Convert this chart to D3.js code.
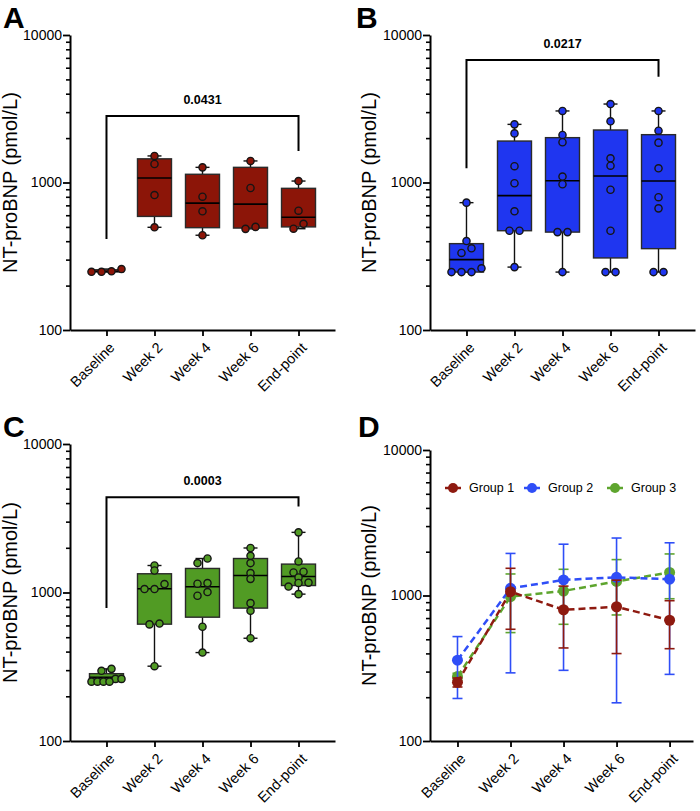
<!DOCTYPE html>
<html><head><meta charset="utf-8">
<script src="https://cdn.jsdelivr.net/npm/d3@7"></script>
<style>
body{margin:0;background:#fff}
text{font-family:"Liberation Sans",Arial,Helvetica,sans-serif}
</style>
</head><body>
<svg id="chart" width="700" height="811"></svg>
<script>
// ---------------- DATA ----------------
const categories = ["Baseline", "Week 2", "Week 4", "Week 6", "End-point"];
const yTicksMajor = [100, 1000, 10000];
const yTicksMinor = [200, 300, 400, 500, 600, 700, 800, 900, 2000, 3000, 4000, 5000, 6000, 7000, 8000, 9000];
const yTitle = "NT-proBNP (pmol/L)";
const groupNames = ["Group 1", "Group 2", "Group 3"];
const pValues = ["0.0431", "0.0217", "0.0003"];

// Panel A (Group 1) individual values per time point
const pointsA = [
  [248, 259, 248, 250],
  [1514, 1335, 822, 497],
  [1267, 801, 638, 439],
  [1400, 918, 500, 485],
  [1023, 644, 525, 486]
];
// box quartiles [Q1, median, Q3]
const boxA = [[248, 249, 256], [589, 1073, 1447], [494, 725, 1137], [491, 714, 1267], [500, 581, 913]];

// Panel B (Group 2)
const pointsB = [
  [730, 401, 358, 333, 262, 247, 247, 247],
  [2478, 2153, 1290, 988, 638, 471, 471, 267],
  [3055, 2100, 1875, 1097, 973, 461, 461, 247],
  [3404, 2600, 1459, 1300, 893, 471, 247, 247],
  [3055, 2245, 1863, 1248, 795, 668, 247, 247]
];
const boxB = [[247, 300, 385], [471, 815, 1910], [461, 1028, 2014], [308, 1107, 2270], [356, 1023, 2110]];

// Panel C (Group 3)
const pointsC = [
  [306, 297, 262, 262, 251, 251, 251, 251],
  [1520, 1406, 1139, 1055, 1055, 618, 610, 319],
  [1694, 1578, 1157, 1146, 1007, 951, 588, 394],
  [1994, 1766, 1578, 1352, 1236, 848, 753, 492],
  [2541, 1618, 1380, 1365, 1262, 1166, 1160, 1097, 975]
];
const boxC = [[251, 268, 284], [612, 1059, 1337], [682, 1092, 1452], [785, 1303, 1694], [1114, 1282, 1553]];

// Panel D: mean and SD per group
const meanG1 = [253, 1062, 798, 837, 676];
const sdG1   = [18, 476, 362, 438, 245];
const meanG2 = [359, 1120, 1279, 1333, 1295];
const sdG2   = [163, 826, 973, 1150, 1008];
const meanG3 = [277, 981, 1074, 1250, 1440];
const sdG3   = [15, 425, 440, 515, 490];

// ---------------- STYLE ----------------
const RED = "#8c1508", BLUE = "#1f36f0", GREEN = "#519b24";
const LRED = "#8e1a10", LBLUE = "#2f4ef7", LGREEN = "#5ea52e";

const svg = d3.select("#chart");

function drawAxes(g, x, y, x0, x1, titleX, letter, letterX, letterY) {
  const yMin = y.range()[0];
  g.append("g").attr("transform", `translate(${x0},0)`)
    .call(d3.axisLeft(y).tickValues(yTicksMinor).tickSize(4).tickFormat(""))
    .call(a => a.select(".domain").remove())
    .call(a => a.selectAll("line").attr("stroke", "#000").attr("stroke-width", 1.6));
  g.append("g").attr("transform", `translate(${x0},0)`)
    .call(d3.axisLeft(y).tickValues(yTicksMajor).tickSize(7).tickSizeOuter(0).tickFormat(d3.format("d")))
    .call(a => a.select(".domain").attr("stroke", "#000").attr("stroke-width", 2))
    .call(a => a.selectAll("line").attr("stroke", "#000").attr("stroke-width", 1.8))
    .call(a => a.selectAll("text").attr("font-size", 14).attr("fill", "#000").attr("x", -8)
      .style("font-family", '"Liberation Sans",Arial,sans-serif'));
  g.append("g").attr("transform", `translate(0,${yMin})`)
    .call(d3.axisBottom(x).tickSize(6).tickSizeOuter(0))
    .call(a => a.select(".domain").attr("stroke", "#000").attr("stroke-width", 2))
    .call(a => a.selectAll("line").attr("stroke", "#000").attr("stroke-width", 1.8))
    .call(a => a.selectAll("text").attr("font-size", 14.5).attr("fill", "#000")
      .attr("x", 0).attr("y", 0).attr("dy", "0.35em")
      .attr("text-anchor", "end")
      .attr("transform", "translate(5,15) rotate(-45)")
      .style("font-family", '"Liberation Sans",Arial,sans-serif'));
  const yc = (y.range()[0] + y.range()[1]) / 2;
  g.append("text").attr("transform", `translate(${titleX},${yc}) rotate(-90)`)
    .attr("text-anchor", "middle").attr("font-size", 20).text(yTitle);
  g.append("text").attr("x", letterX).attr("y", letterY)
    .attr("font-size", 30).attr("font-weight", "bold").text(letter);
}

function swarm(vals, y) {
  const idx = vals.map((v, i) => i).sort((a, b) => vals[a] - vals[b]);
  const off = new Array(vals.length).fill(0);
  const bins = [];
  let cur = null;
  idx.forEach(i => {
    const py = y(vals[i]);
    if (cur && Math.abs(py - cur.y0) <= 5) cur.items.push(i);
    else { cur = { y0: py, items: [i] }; bins.push(cur); }
  });
  bins.forEach(b => {
    const n = b.items.length;
    const sp = Math.min(10, 30 / Math.max(n - 1, 1));
    b.items.forEach((i, k) => off[i] = (k - (n - 1) / 2) * sp);
  });
  return off;
}

function boxPanel(cfg) {
  const g = svg.append("g");
  const x = d3.scalePoint().domain(categories).range([cfg.x0, cfg.x1]).padding(0.76).align(0.5);
  const y = d3.scaleLog().domain([100, 10000]).range([cfg.yBot, cfg.yTop]);
  drawAxes(g, x, y, cfg.x0, cfg.x1, cfg.titleX, cfg.letter, cfg.letterX, cfg.letterY);
  const bw = 34, cw = 14;
  categories.forEach((c, i) => {
    const pts = cfg.points[i];
    const [q1, med, q3] = cfg.box[i];
    const mn = d3.min(pts), mx = d3.max(pts);
    const cx = x(c);
    const bg = g.append("g");
    bg.append("line").attr("x1", cx).attr("x2", cx).attr("y1", y(q3)).attr("y2", y(mx)).attr("stroke", "#111").attr("stroke-width", 1.4);
    bg.append("line").attr("x1", cx).attr("x2", cx).attr("y1", y(q1)).attr("y2", y(mn)).attr("stroke", "#111").attr("stroke-width", 1.4);
    bg.append("line").attr("x1", cx - cw / 2).attr("x2", cx + cw / 2).attr("y1", y(mx)).attr("y2", y(mx)).attr("stroke", "#111").attr("stroke-width", 1.4);
    bg.append("line").attr("x1", cx - cw / 2).attr("x2", cx + cw / 2).attr("y1", y(mn)).attr("y2", y(mn)).attr("stroke", "#111").attr("stroke-width", 1.4);
    bg.append("rect").attr("x", cx - bw / 2).attr("width", bw)
      .attr("y", y(q3)).attr("height", Math.max(y(q1) - y(q3), 0.5))
      .attr("fill", cfg.color).attr("stroke", "#2a2a2a").attr("stroke-width", 1.4);
    bg.append("line").attr("x1", cx - bw / 2).attr("x2", cx + bw / 2).attr("y1", y(med)).attr("y2", y(med))
      .attr("stroke", "#000").attr("stroke-width", 1.6);
    const off = swarm(pts, y);
    bg.selectAll("circle").data(pts).join("circle")
      .attr("cx", (d, k) => cx + off[k]).attr("cy", d => y(d)).attr("r", 3.6)
      .attr("fill", cfg.color).attr("stroke", "#151515").attr("stroke-width", 1.4);
  });
  const xl = x(categories[0]), xr = x(categories[4]);
  const yb = y(cfg.bracket[0]);
  g.append("path")
    .attr("d", `M${xl},${y(cfg.bracket[1])}V${yb}H${xr}V${y(cfg.bracket[2])}`)
    .attr("fill", "none").attr("stroke", "#000").attr("stroke-width", 2);
  g.append("text").attr("x", (xl + xr) / 2).attr("y", yb - 12).attr("text-anchor", "middle")
    .attr("font-size", 12.5).attr("font-weight", "bold").text(cfg.p);
}

boxPanel({ x0: 70, x1: 335, yTop: 35, yBot: 330, titleX: 17, letter: "A", letterX: 3, letterY: 28,
  points: pointsA, box: boxA, color: RED, bracket: [2825, 414, 1636], p: pValues[0] });
boxPanel({ x0: 430, x1: 695, yTop: 35, yBot: 330, titleX: 376, letter: "B", letterX: 356, letterY: 28,
  points: pointsB, box: boxB, color: BLUE, bracket: [6760, 1248, 5213], p: pValues[1] });
boxPanel({ x0: 70, x1: 335, yTop: 444, yBot: 741, titleX: 17, letter: "C", letterX: 3, letterY: 437,
  points: pointsC, box: boxC, color: GREEN, bracket: [4375, 785, 3800], p: pValues[2] });

// ---------------- Panel D ----------------
(function () {
  const g = svg.append("g");
  const x0 = 430, x1 = 693;
  const x = d3.scalePoint().domain(categories).range([x0, x1]).padding(0.48).align(0.54);
  const y = d3.scaleLog().domain([100, 10000]).range([741, 450]);
  drawAxes(g, x, y, x0, x1, 376, "D", 358, 437);
  const series = [
    { name: groupNames[2], mean: meanG3, sd: sdG3, color: LGREEN },
    { name: groupNames[1], mean: meanG2, sd: sdG2, color: LBLUE },
    { name: groupNames[0], mean: meanG1, sd: sdG1, color: LRED }
  ];
  const line = d3.line().x((d, i) => x(categories[i])).y(d => y(d));
  series.forEach(s => {
    const sg = g.append("g");
    categories.forEach((c, i) => {
      const lo = s.mean[i] - s.sd[i], hi = s.mean[i] + s.sd[i];
      const cx = x(c);
      sg.append("line").attr("x1", cx).attr("x2", cx).attr("y1", y(lo)).attr("y2", y(hi))
        .attr("stroke", s.color).attr("stroke-width", 1.6);
      [lo, hi].forEach(v => sg.append("line").attr("x1", cx - 5).attr("x2", cx + 5)
        .attr("y1", y(v)).attr("y2", y(v)).attr("stroke", s.color).attr("stroke-width", 1.6));
    });
    sg.append("path").datum(s.mean).attr("d", line).attr("fill", "none")
      .attr("stroke", s.color).attr("stroke-width", 2.5).attr("stroke-dasharray", "7,4");
    sg.selectAll("circle").data(s.mean).join("circle")
      .attr("cx", (d, i) => x(categories[i])).attr("cy", d => y(d)).attr("r", 5.5)
      .attr("fill", s.color);
  });
  const legX = [453, 532, 615];
  const legColors = [LRED, LBLUE, LGREEN];
  groupNames.forEach((n, i) => {
    const lg = g.append("g").attr("transform", `translate(${legX[i]},488)`);
    lg.append("line").attr("x1", -8).attr("x2", 8).attr("stroke", legColors[i]).attr("stroke-width", 2.5);
    lg.append("circle").attr("r", 5).attr("fill", legColors[i]);
    lg.append("text").attr("x", 16).attr("dy", "0.35em").attr("font-size", 12.5).text(n);
  });
})();
</script>
</body></html>
